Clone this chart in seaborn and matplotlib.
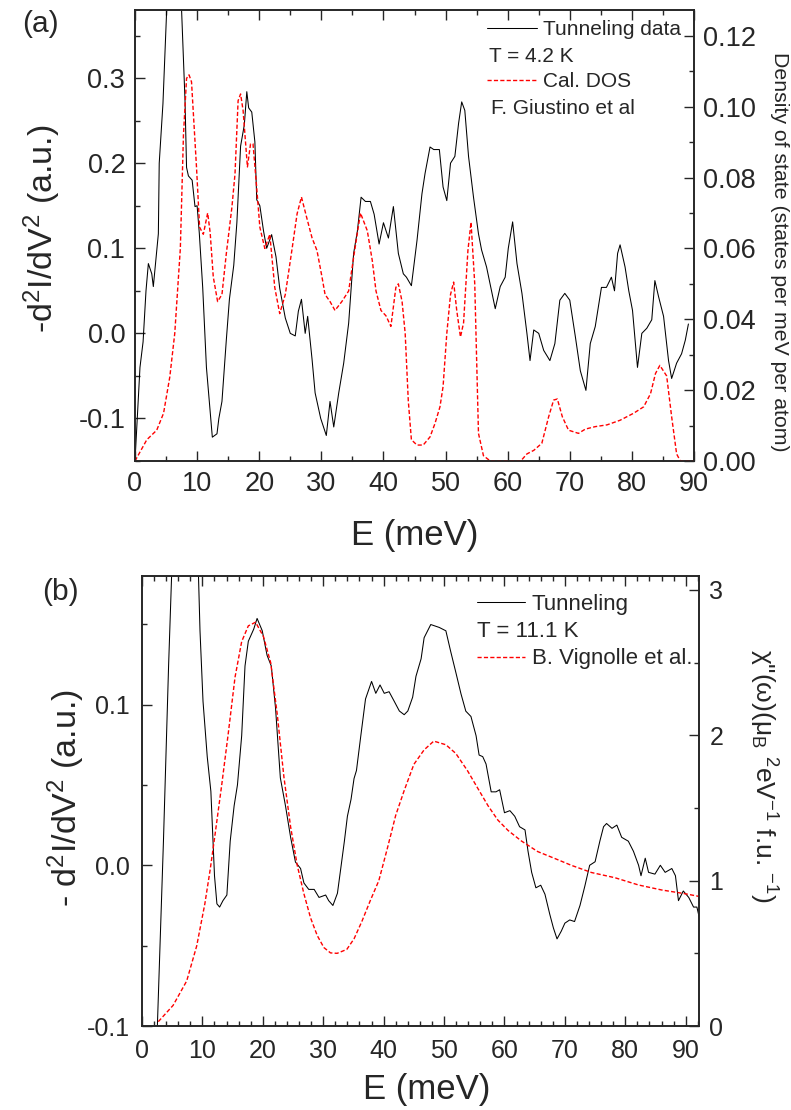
import matplotlib
matplotlib.use("Agg")
import matplotlib.pyplot as plt
import seaborn as sns
import numpy as np
from matplotlib.ticker import MultipleLocator, FormatStrFormatter

# ---------------- data: panel (a) ----------------
a_tun_E = [0, 0.8, 1.3, 1.77, 2.15, 2.7, 2.95, 3.76, 3.9, 4.5, 5.1, 6.3, 7.5, 8.05, 8.3, 8.6, 9.2, 9.66,
           10.0, 10.35, 10.9, 11.5, 12.45, 13.2, 13.5, 14.0, 14.7, 15.2, 15.9, 16.4, 17.0, 17.6, 18.0,
           18.3, 18.8, 19.3, 19.6, 20.1, 20.7, 21.2, 22.0, 22.7, 23.3, 24.2, 25.0, 25.8, 26.3, 26.8,
           27.4, 27.8, 28.5, 29.0, 29.9, 30.8, 31.4, 32.0, 32.8, 33.6, 34.4, 35.2, 35.8, 36.4, 37.1,
           37.9, 38.5, 39.3, 40.0, 40.8, 41.6, 42.4, 43.2, 43.7, 44.5, 45.4, 46.2, 46.7, 47.5, 48.1,
           49.0, 49.6, 50.2, 50.8, 51.5, 52.1, 52.6, 53.1, 53.7, 54.5, 55.3, 55.8, 56.6, 57.4, 58.0,
           58.8, 59.6, 60.1, 60.8, 61.5, 62.3, 63.1, 63.6, 64.2, 65.0, 65.8, 66.8, 67.6, 68.4, 69.2,
           70.0, 70.9, 71.7, 72.6, 73.3, 74.1, 74.6, 75.1, 75.9, 76.7, 77.2, 77.7, 78.1, 78.9, 79.5,
           80.1, 80.9, 81.6, 82.4, 83.2, 83.7, 84.3, 85.1, 85.9, 86.4, 87.2, 88.0, 88.6, 89.1]
a_tun_val = [-0.15, -0.04, -0.01, 0.05, 0.082, 0.07, 0.055, 0.117, 0.2, 0.27, 0.38, 0.47, 0.38, 0.274,
             0.195, 0.185, 0.18, 0.149, 0.15, 0.118, 0.054, -0.04, -0.122, -0.118, -0.1, -0.08, -0.008,
             0.04, 0.08, 0.13, 0.22, 0.245, 0.284, 0.265, 0.26, 0.225, 0.157, 0.15, 0.12, 0.1, 0.116,
             0.09, 0.053, 0.018, 0.0, -0.003, 0.026, 0.04, 0.0, 0.02, -0.03, -0.07, -0.1, -0.12, -0.08,
             -0.11, -0.07, -0.035, 0.012, 0.094, 0.12, 0.16, 0.155, 0.155, 0.14, 0.105, 0.13, 0.112,
             0.149, 0.094, 0.07, 0.066, 0.056, 0.109, 0.164, 0.188, 0.219, 0.216, 0.216, 0.172, 0.156,
             0.2, 0.208, 0.247, 0.272, 0.262, 0.208, 0.16, 0.117, 0.098, 0.078, 0.05, 0.029, 0.055,
             0.066, 0.1, 0.131, 0.082, 0.047, 0.0, -0.032, 0.004, 0.0, -0.02, -0.032, -0.012, 0.039,
             0.047, 0.039, -0.004, -0.044, -0.067, -0.012, 0.008, 0.031, 0.054, 0.054, 0.066, 0.05,
             0.094, 0.104, 0.078, 0.05, 0.027, -0.04, 0.0, 0.006, 0.016, 0.062, 0.043, 0.02, -0.032,
             -0.053, -0.035, -0.024, -0.008, 0.011]

a_dos_E = [0, 1.9, 3.5, 4.6, 5.6, 6.4, 7.3, 7.8, 8.3, 8.7, 9.1, 9.9, 10.4, 11.0, 11.7, 12.1, 12.6, 13.3,
           14.0, 14.7, 15.6, 16.1, 16.6, 17.0, 17.4, 18.1, 18.6, 19.0, 19.6, 20.1, 20.9, 21.7, 22.5,
           23.3, 24.2, 25.3, 26.1, 26.8, 27.6, 28.5, 29.3, 30.1, 30.6, 31.4, 32.2, 33.3, 34.4, 35.2,
           36.3, 37.4, 38.2, 38.8, 39.6, 40.4, 41.2, 42.0, 42.4, 43.0, 43.5, 44.0, 44.5, 45.4, 46.4,
           47.5, 48.3, 49.1, 49.6, 50.2, 50.8, 51.3, 51.8, 52.4, 52.9, 53.6, 54.1, 54.7, 55.3, 56.1,
           57.2, 62.1, 63.1, 64.2, 65.5, 66.6, 67.4, 68.0, 68.8, 69.8, 71.4, 72.5, 74.1, 76.0, 78.1,
           80.3, 81.9, 83.0, 83.8, 84.5, 85.6, 86.4, 87.2, 87.8, 89.9]
a_dos_val = [0.0, 0.006, 0.0087, 0.0135, 0.0237, 0.036, 0.060, 0.092, 0.108, 0.109, 0.107, 0.083,
             0.066, 0.064, 0.070, 0.0645, 0.052, 0.045, 0.047, 0.0585, 0.0716, 0.081, 0.1017, 0.1036,
             0.099, 0.083, 0.0895, 0.0895, 0.077, 0.066, 0.060, 0.064, 0.049, 0.0416, 0.047, 0.06,
             0.0698, 0.0745, 0.069, 0.063, 0.0594, 0.052, 0.047, 0.045, 0.0425, 0.045, 0.048, 0.0575,
             0.07, 0.065, 0.0566, 0.048, 0.0425, 0.041, 0.038, 0.049, 0.05, 0.045, 0.036, 0.017,
             0.006, 0.0045, 0.0045, 0.0068, 0.0106, 0.0153, 0.021, 0.036, 0.047, 0.0505, 0.0425,
             0.035, 0.039, 0.0594, 0.0674, 0.05, 0.0078, 0.0015, 0.0, 0.0, 0.002, 0.003, 0.005,
             0.0125, 0.0172, 0.0175, 0.0125, 0.0087, 0.0078, 0.009, 0.0097, 0.0102, 0.0115, 0.0135,
             0.0153, 0.019, 0.0247, 0.027, 0.024, 0.0125, 0.002, 0.0, 0.0]

# ---------------- data: panel (b) ----------------
b_tun_E = [2.5, 3.55, 4.4, 4.9, 7.0, 9.35, 9.6, 10.1, 10.8, 11.4, 12.0, 12.4, 12.85, 13.4, 14.05, 14.6,
           15.25, 15.8, 16.5, 17.05, 17.6, 18.5, 19.05, 19.9, 20.7, 21.4, 22.1, 22.9, 23.75, 24.6,
           25.4, 26.25, 26.8, 27.6, 28.5, 29.3, 30.4, 30.9, 31.6, 32.35, 32.9, 33.5, 34.0, 34.6, 35.1,
           35.5, 36.2, 37.0, 38.0, 38.7, 39.4, 40.1, 40.9, 41.7, 42.6, 43.4, 44.0, 44.8, 45.35, 46.2,
           46.7, 47.8, 49.2, 50.3, 51.1, 51.95, 52.8, 53.6, 54.45, 55.3, 55.8, 56.4, 56.95, 57.8,
           58.6, 59.2, 60.0, 60.9, 61.7, 62.5, 63.4, 63.9, 64.5, 65.2, 66.0, 66.7, 67.5, 68.1, 68.7,
           69.4, 70.0, 70.8, 71.6, 72.5, 73.3, 74.1, 75.0, 75.8, 76.4, 76.9, 77.8, 78.6, 79.4, 80.5,
           81.35, 82.2, 82.6, 83.3, 83.85, 84.9, 85.8, 86.6, 87.7, 88.3, 88.8, 89.6, 90.5, 91.3,
           91.85, 92.4]
b_tun_val = [-0.105, 0.015, 0.124, 0.18, 0.27, 0.18, 0.146, 0.102, 0.0675, 0.046, -0.0065, -0.024,
             -0.026, -0.022, -0.0185, 0.015, 0.037, 0.05, 0.0806, 0.124, 0.1394, 0.147, 0.1536,
             0.146, 0.1307, 0.124, 0.098, 0.0544, 0.037, 0.0174, 0.002, -0.002, -0.011, -0.015,
             -0.015, -0.02, -0.0185, -0.022, -0.025, -0.0174, -0.002, 0.015, 0.0305, 0.041, 0.054,
             0.059, 0.08, 0.1035, 0.1144, 0.107, 0.1122, 0.107, 0.108, 0.1024, 0.096, 0.0937, 0.096,
             0.1046, 0.1176, 0.1285, 0.1416, 0.1498, 0.148, 0.1459, 0.133, 0.12, 0.1067, 0.0959,
             0.0926, 0.0806, 0.0686, 0.0676, 0.063, 0.0457, 0.0457, 0.047, 0.0327, 0.034, 0.0305,
             0.024, 0.022, 0.0087, -0.0044, -0.014, -0.0124, -0.018, -0.0305, -0.039, -0.0458,
             -0.041, -0.036, -0.034, -0.035, -0.025, -0.013, 0.0, 0.0022, 0.0152, 0.024, 0.026,
             0.023, 0.025, 0.0174, 0.015, 0.0087, 0.0, -0.0065, 0.0044, -0.0044, -0.0055, 0.0,
             -0.0044, -0.002, -0.0065, -0.022, -0.016, -0.02, -0.026, -0.026, -0.035]

b_chi_E = [2.7, 5.15, 7.4, 9.05, 10.4, 11.3, 12.1, 13.2, 14.3, 15.4, 16.5, 17.6, 18.8, 20.1, 21.3, 22.4,
           23.5, 24.6, 25.7, 26.8, 27.9, 29.0, 30.1, 31.2, 32.3, 33.9, 35.1, 36.4, 37.8, 39.2, 40.6,
           42.0, 43.4, 45.0, 46.7, 48.3, 50.3, 51.95, 53.9, 55.6, 57.3, 58.9, 60.6, 62.8, 65.5, 68.3,
           71.1, 74.4, 78.3, 82.2, 86.0, 89.9, 92.4]
b_chi_val = [0.03, 0.142, 0.31, 0.55, 0.84, 1.08, 1.32, 1.66, 2.02, 2.40, 2.645, 2.753, 2.778, 2.68,
             2.50, 2.14, 1.71, 1.37, 1.105, 0.91, 0.744, 0.623, 0.54, 0.503, 0.50, 0.527, 0.6, 0.72,
             0.864, 1.0, 1.22, 1.45, 1.62, 1.80, 1.90, 1.96, 1.935, 1.875, 1.755, 1.634, 1.514,
             1.417, 1.345, 1.273, 1.20, 1.153, 1.105, 1.056, 1.02, 0.97, 0.936, 0.91, 0.89]

# ---------------- style ----------------
sns.set_style("ticks")
plt.rcParams["font.family"] = ["Liberation Sans", "DejaVu Sans"]
plt.rcParams["mathtext.fontset"] = "custom"
plt.rcParams["mathtext.rm"] = "Liberation Sans"
plt.rcParams["mathtext.it"] = "Liberation Sans:italic"
plt.rcParams["mathtext.bf"] = "Liberation Sans:bold"
plt.rcParams["axes.linewidth"] = 1.2

W, H = 791, 1110
fig = plt.figure(figsize=(W / 100, H / 100), dpi=100)


def frac_box(l, t, r, b):
    return [l / W, 1 - b / H, (r - l) / W, (b - t) / H]


def style_ticks(ax, labelsize, pad, left=True, right=False):
    ax.tick_params(which="both", direction="in", top=True, bottom=True, left=left, right=right,
                   labelleft=left, labelright=right, labelbottom=True, width=1.0,
                   labelsize=labelsize, pad=pad)
    ax.tick_params(which="major", length=7)
    ax.tick_params(which="minor", length=3.8)


# ---------------- panel (a) ----------------
axA = fig.add_axes(frac_box(135, 10, 694, 461))
axA2 = axA.twinx()
sns.lineplot(x=a_tun_E, y=a_tun_val, ax=axA, color="black", lw=0.75, sort=False,
             estimator=None, label="Tunneling data", legend=False)
sns.lineplot(x=a_dos_E, y=a_dos_val, ax=axA2, color="red", lw=1.0, sort=False,
             estimator=None, label="Cal. DOS", legend=False, dashes=False)
axA2.get_lines()[0].set_dashes((3, 1.6))
axA.set_xlim(0, 90)
axA.set_ylim(-0.15, 0.38)
axA2.set_ylim(0, 0.1273)
axA.xaxis.set_major_locator(MultipleLocator(10))
axA.xaxis.set_minor_locator(MultipleLocator(5))
axA.yaxis.set_major_locator(MultipleLocator(0.1))
axA.yaxis.set_minor_locator(MultipleLocator(0.05))
axA.yaxis.set_major_formatter(FormatStrFormatter("%.1f"))
axA2.yaxis.set_major_locator(MultipleLocator(0.02))
axA2.yaxis.set_minor_locator(MultipleLocator(0.01))
axA2.yaxis.set_major_formatter(FormatStrFormatter("%.2f"))
style_ticks(axA, 19.5, 7)
axA2.tick_params(which="both", direction="in", left=False, right=True, labelright=True,
                 labelleft=False, width=1.0, labelsize=19.5, pad=6.5)
axA2.tick_params(which="major", length=7)
axA2.tick_params(which="minor", length=3.8)
axA.set_xlabel("")
axA.set_ylabel("")
axA2.set_ylabel("")

hA = [axA.get_lines()[0], axA2.get_lines()[0]]
legA = axA2.legend(hA, ["Tunneling data", "Cal. DOS"], loc="upper left",
                   bbox_to_anchor=(0.630, 0.977), frameon=False, fontsize=15,
                   handlelength=2.4, handletextpad=0.3, labelspacing=1.56,
                   borderpad=0, borderaxespad=0)
axA2.text(0.633, 0.898, "T = 4.2 K", transform=axA2.transAxes, fontsize=15, va="center", ha="left")
axA2.text(0.637, 0.781, "F. Giustino et al", transform=axA2.transAxes, fontsize=15,
          va="center", ha="left")

fig.text(40 / W, 1 - 24 / H, "(a)", fontsize=21.5, ha="center", va="center")
fig.text(415 / W, 1 - 535 / H, "E (meV)", fontsize=25, ha="center", va="center")
fig.text(42.5 / W, 1 - 229 / H, "-d$^2$I/dV$^2$ (a.u.)", fontsize=24.5, ha="center", va="center",
         rotation=90)
fig.text(779 / W, 1 - 252 / H, "Density of state (states per meV per atom)", fontsize=15.3,
         ha="center", va="center", rotation=-90)

# ---------------- panel (b) ----------------
axB = fig.add_axes(frac_box(142, 576, 699, 1026))
axB2 = axB.twinx()
sns.lineplot(x=b_tun_E, y=b_tun_val, ax=axB, color="black", lw=0.75, sort=False,
             estimator=None, label="Tunneling", legend=False)
sns.lineplot(x=b_chi_E, y=b_chi_val, ax=axB2, color="red", lw=1.0, sort=False,
             estimator=None, label="B. Vignolle et al.", legend=False, dashes=False)
axB2.get_lines()[0].set_dashes((3, 1.6))
axB.set_xlim(0, 92.2)
axB.set_ylim(-0.1, 0.18)
axB2.set_ylim(0, 3.096)
axB.xaxis.set_major_locator(MultipleLocator(10))
axB.xaxis.set_minor_locator(MultipleLocator(2))
axB.yaxis.set_major_locator(MultipleLocator(0.1))
axB.yaxis.set_minor_locator(MultipleLocator(0.05))
axB.yaxis.set_major_formatter(FormatStrFormatter("%.1f"))
axB2.yaxis.set_major_locator(MultipleLocator(1))
axB2.yaxis.set_minor_locator(MultipleLocator(0.5))
axB2.yaxis.set_major_formatter(FormatStrFormatter("%d"))
style_ticks(axB, 18, 9)
axB2.tick_params(which="both", direction="in", left=False, right=True, labelright=True,
                 labelleft=False, width=1.0, labelsize=18, pad=7.5)
axB2.tick_params(which="major", length=7)
axB2.tick_params(which="minor", length=3.8)
axB.set_xlabel("")
axB.set_ylabel("")
axB2.set_ylabel("")

hB = [axB.get_lines()[0], axB2.get_lines()[0]]
legB = axB2.legend(hB, ["Tunneling", "B. Vignolle et al."], loc="upper left",
                   bbox_to_anchor=(0.601, 0.960), frameon=False, fontsize=16,
                   handlelength=2.16, handletextpad=0.31, labelspacing=1.5,
                   borderpad=0, borderaxespad=0)
axB2.text(0.602, 0.876, "T = 11.1 K", transform=axB2.transAxes, fontsize=16, va="center", ha="left")

fig.text(60 / W, 1 - 592 / H, "(b)", fontsize=21.5, ha="center", va="center")
fig.text(427 / W, 1 - 1089 / H, "E (meV)", fontsize=25, ha="center", va="center")
fig.text(66 / W, 1 - 798 / H, "- d$^2$I/dV$^2$ (a.u.)", fontsize=24.5, ha="center", va="center",
         rotation=90)
fig.text(763 / W, 1 - 776 / H, "\u03c7\"(\u03c9)(\u03bc$_{\\rm B}$ $^{2}$eV$^{-1}$ f.u. $^{-1}$)",
         fontsize=19, ha="center", va="center", rotation=-90)

fig.savefig("out.png", dpi=100)
